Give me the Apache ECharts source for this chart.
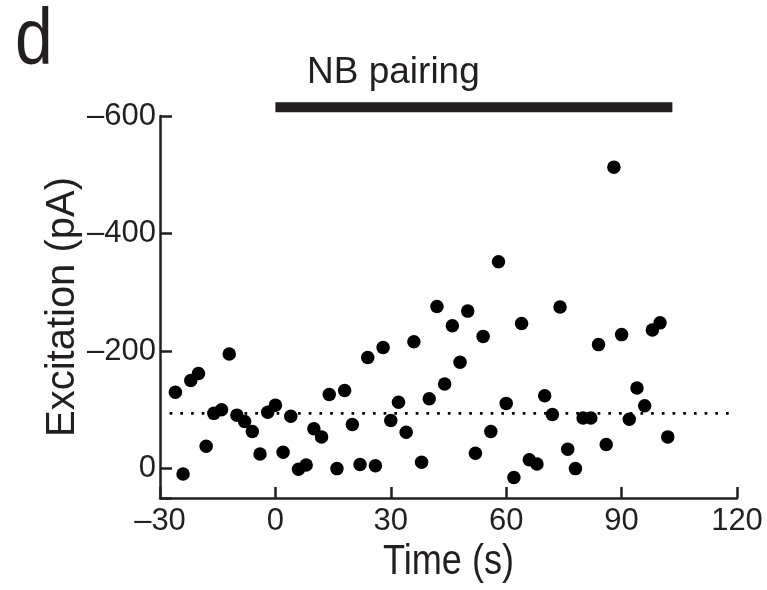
<!DOCTYPE html>
<html>
<head>
<meta charset="utf-8">
<script src="https://cdn.jsdelivr.net/npm/echarts@6/dist/echarts.min.js"></script>
<style>
  html, body { margin: 0; padding: 0; background: #fff; }
  #chart { width: 767px; height: 590px; }
</style>
</head>
<body>
<div id="chart"></div>
<script>
// Excitatory current amplitude over time, before and during NB pairing
const times = [
  -26, -24, -22, -20, -18, -16, -14, -12, -10, -8, -6, -4, -2,
  0, 2, 4, 6, 8, 10, 12, 14, 16, 18, 20, 22, 24, 26, 28,
  30, 32, 34, 36, 38, 40, 42, 44, 46, 48, 50, 52, 54, 56, 58,
  60, 62, 64, 66, 68, 70, 72, 74, 76, 78, 80, 82, 84, 86, 88,
  90, 92, 94, 96, 98, 100, 102
];
const excitation = [
  -130, 9, -150, -162, -38, -94, -100, -195, -91, -80, -63, -25, -96,
  -108, -28, -89, 1, -6, -68, -54, -126, 0, -133, -75, -7, -189, -5, -206,
  -82, -113, -62, -216, -11, -119, -276, -144, -243, -181, -268, -26, -225, -63, -352,
  -111, 15, -247, -15, -8, -124, -92, -275, -33, 0, -86, -86, -211, -41, -513,
  -228, -84, -137, -107, -236, -248, -54
];

// Pre-pairing baseline mean (dotted reference line)
const baselineSpan = [-27.5, 118];
const baselineLevel = -94;

// Pairing period bar, drawn just above the plot
const pairingSpan = [0, 103.2];
const pairingBarLevel = -615;
const pairingLabel = 'NB pairing';

const xTicks = { min: -30, max: 120, interval: 30 };
const yTicks = { min: -600, max: 50, interval: 200 };

const ink = '#231f20';
const FONT = '"Liberation Sans", Arial, Helvetica, sans-serif';

const points = times.map((t, i) => [t, excitation[i]]);

const chart = echarts.init(document.getElementById('chart'), null, { renderer: 'canvas' });

const fmtSigned = v => (v < 0 ? '\u2013' + Math.abs(v) : String(v));

chart.setOption({
  animation: false,
  backgroundColor: '#ffffff',
  grid: { left: 160, right: 30, top: 116, bottom: 92, containLabel: false },
  xAxis: {
    type: 'value',
    min: xTicks.min, max: xTicks.max, interval: xTicks.interval,
    axisLine: { show: true, onZero: false, lineStyle: { color: ink, width: 2.5 } },
    axisTick: { show: true, inside: true, length: 11, lineStyle: { color: ink, width: 2.5 } },
    axisLabel: {
      fontFamily: FONT, fontSize: 31, color: ink, margin: 8,
      formatter: fmtSigned
    },
    splitLine: { show: false }
  },
  yAxis: {
    type: 'value',
    inverse: true,
    min: yTicks.min, max: yTicks.max, interval: yTicks.interval,
    name: 'Excitation (pA)',
    nameLocation: 'middle',
    nameRotate: 90,
    nameGap: 77,
    nameMoveOverlap: false,
    nameTextStyle: { fontFamily: FONT, fontSize: 40, color: ink },
    axisLine: { show: true, onZero: false, lineStyle: { color: ink, width: 2.5 } },
    axisTick: { show: true, inside: true, length: 12, lineStyle: { color: ink, width: 2.5 } },
    axisLabel: {
      fontFamily: FONT, fontSize: 31, color: ink, margin: 4,
      formatter: v => (v % yTicks.interval === 0 ? fmtSigned(v) : '')
    },
    splitLine: { show: false }
  },
  graphic: [
    {
      type: 'text', left: 15, top: 2, scaleX: 0.85,
      style: { text: 'd', font: '80px ' + FONT, fill: ink }
    },
    {
      type: 'text', left: 307, top: 54,
      style: { text: pairingLabel, font: '37px ' + FONT, fill: ink }
    },
    {
      type: 'text', left: 383, top: 541, scaleX: 0.84,
      style: { text: 'Time (s)', font: '43px ' + FONT, fill: ink }
    }
  ],
  series: [
    {
      name: 'baseline',
      type: 'line',
      data: [[baselineSpan[0], baselineLevel], [baselineSpan[1], baselineLevel]],
      symbol: 'none',
      silent: true,
      lineStyle: { color: '#000', width: 2.7, type: [2.7, 8], cap: 'butt' },
      z: 1
    },
    {
      name: 'pairing',
      type: 'line',
      data: [[pairingSpan[0], pairingBarLevel], [pairingSpan[1], pairingBarLevel]],
      symbol: 'none',
      clip: false,
      silent: true,
      lineStyle: { color: ink, width: 10, cap: 'butt' },
      z: 3
    },
    {
      name: 'excitation',
      type: 'scatter',
      data: points,
      symbol: 'circle',
      symbolSize: 13.5,
      itemStyle: { color: '#000', opacity: 1 },
      z: 2
    }
  ]
});
</script>
</body>
</html>
